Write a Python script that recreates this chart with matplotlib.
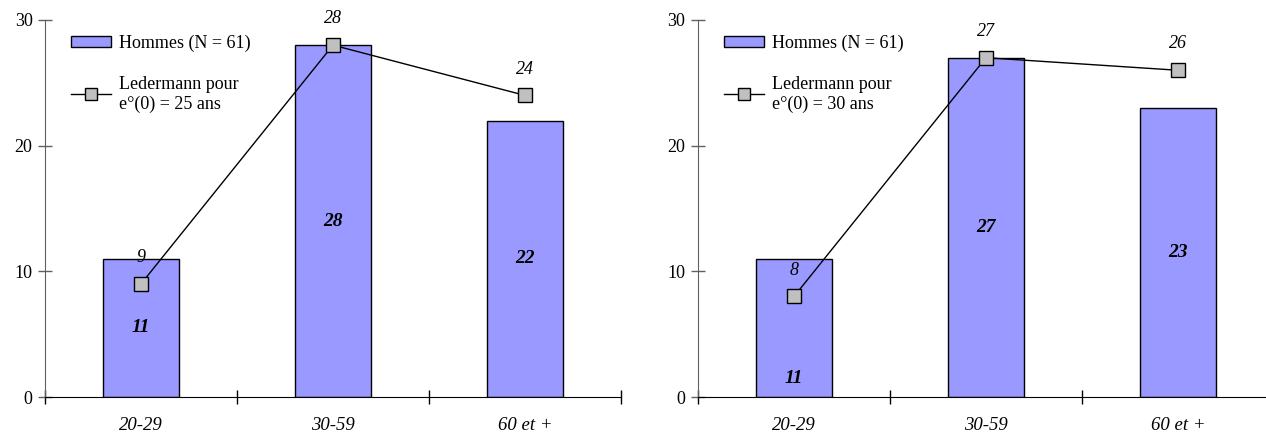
import matplotlib
matplotlib.use("Agg")
import matplotlib.pyplot as plt

plt.rcParams['font.family'] = ['Liberation Serif', 'DejaVu Serif']

# ----- données -----
categories = ["20-29", "30-59", "60 et +"]
hommes_g = [11, 28, 22]
leder_g = [9, 28, 24]
hommes_d = [11, 27, 23]
leder_d = [8, 27, 26]
label_hommes = "Hommes (N = 61)"
label_leder_g = "Ledermann pour\ne°(0) = 25 ans"
label_leder_d = "Ledermann pour\ne°(0) = 30 ans"

W, H = 1266, 432
fig = plt.figure(figsize=(W / 100, H / 100), dpi=100)


def panel(left_px, hommes, leder, leder_label, low_first=False):
    ax = fig.add_axes([left_px / W, 35 / H, 576 / W, 377 / H])
    x = list(range(len(categories)))
    bars = ax.bar(x, hommes, width=0.4, color="#9999FF", edgecolor="black",
                  linewidth=1, label=label_hommes, zorder=2)
    line, = ax.plot(x, leder, color="black", linewidth=1, marker="s",
                    markersize=10, markerfacecolor="#C0C0C0",
                    markeredgecolor="black", markeredgewidth=1,
                    label=leder_label, zorder=3)

    # valeurs des barres (gras italique)
    for i, v in enumerate(hommes):
        y = v / 2
        if low_first and i == 0:
            y = 1.5
        ax.text(i, y, str(v), ha="center", va="center", fontsize=14,
                fontweight="bold", fontstyle="italic", zorder=4)
    # valeurs de la courbe
    for i, v in enumerate(leder):
        ax.annotate(str(v), (i, v), xytext=(0, 19), textcoords="offset points",
                    ha="center", va="center", fontsize=13, fontstyle="italic",
                    zorder=4)

    ax.set_xlim(-0.5, 2.5)
    ax.set_ylim(0, 30)
    ax.set_yticks([0, 10, 20, 30])
    ax.tick_params(axis="y", direction="inout", length=10, width=1,
                   labelsize=13, pad=4, color="#606060")
    ax.set_xticks([-0.5, 0.5, 1.5, 2.5])
    ax.set_xticklabels([])
    ax.tick_params(axis="x", direction="inout", length=10, width=1)
    for i, c in enumerate(categories):
        ax.text(i, -2.3, c, ha="center", va="center", fontsize=13.5,
                fontstyle="italic")
    ax.spines["top"].set_visible(False)
    ax.spines["right"].set_visible(False)
    ax.spines["left"].set_color("#606060")
    ax.spines["bottom"].set_color("black")
    ax.patch.set_alpha(0)
    ax.legend([bars, line], [label_hommes, leder_label], loc="upper left",
              bbox_to_anchor=(0.033, 0.98), frameon=False, fontsize=13,
              handlelength=2.2, handleheight=0.6, handletextpad=0.45,
              labelspacing=1.3, borderaxespad=0, markerscale=0.8)
    return ax


panel(45, hommes_g, leder_g, label_leder_g)
panel(698, hommes_d, leder_d, label_leder_d, low_first=True)

fig.savefig("out.png", dpi=100)
